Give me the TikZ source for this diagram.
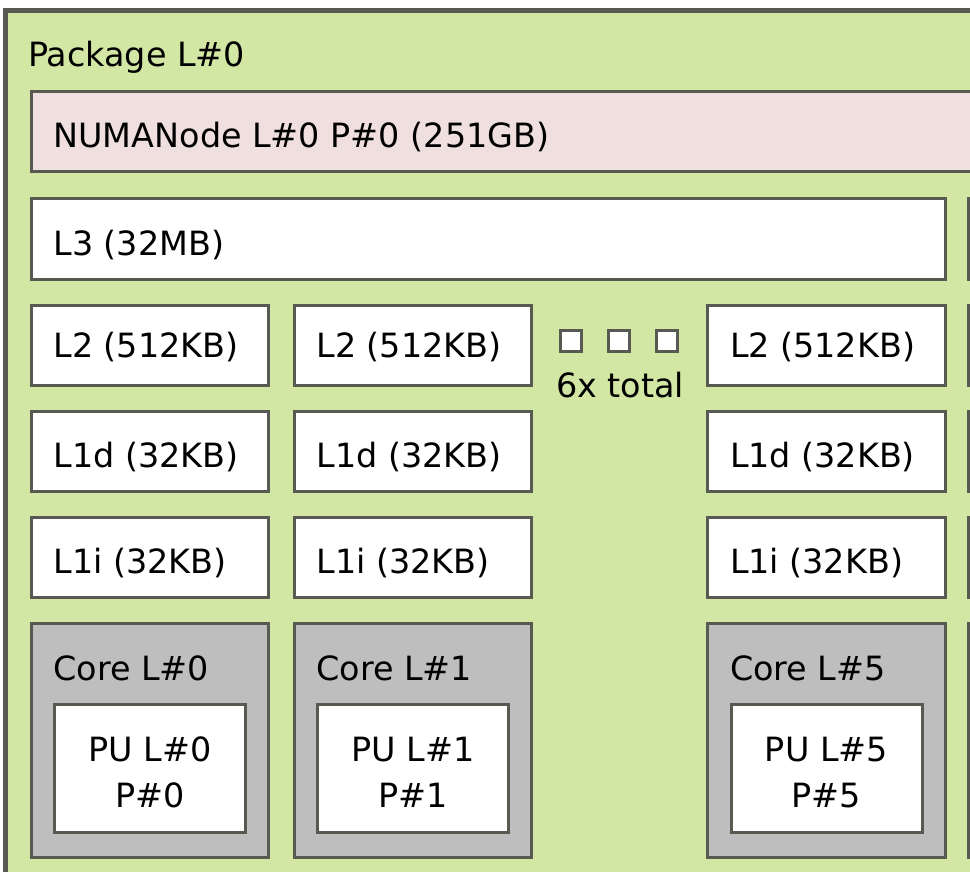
\documentclass[tikz,border=0pt]{standalone}
\usepackage{fontspec}
\setmainfont{DejaVu Sans}
\definecolor{pkgfill}{RGB}{210,231,164}
\definecolor{numafill}{RGB}{239,223,222}
\definecolor{corefill}{RGB}{190,190,190}
\definecolor{edge}{RGB}{88,90,82}
\begin{document}
\begin{tikzpicture}[x=1pt,y=-1pt,
  frame/.style={draw=edge, line width=3pt, outer sep=0pt, inner sep=0pt, anchor=north west},
  cache/.style={frame, fill=white, minimum width=237.5pt, minimum height=80pt},
  corebox/.style={frame, fill=corefill, minimum width=237.5pt, minimum height=234pt},
  pubox/.style={frame, fill=white, minimum width=191pt, minimum height=128.5pt},
  lbl/.style={anchor=base west, inner sep=0pt, outer sep=0pt, font=\fontsize{33.4}{46}\selectfont},
  ctr/.style={inner sep=0pt, outer sep=0pt, align=center, font=\fontsize{33.4}{46}\selectfont},
  dotbox/.style={draw=edge, line width=3pt, fill=white, minimum size=21pt, inner sep=0pt, outer sep=0pt}]
\useasboundingbox (0,0) rectangle (970,872);
\begin{scope}
\clip (0,0) rectangle (970,872);
% package
\node[frame, line width=4.5pt, fill=pkgfill, minimum width=1300pt, minimum height=1000pt] (pkg) at (5.7,10.5) {};
\node[lbl] (pkgl) at (28.2,67) {Package L\#0};
% NUMA
\node[frame, fill=numafill, minimum width=1000pt, minimum height=80pt] (numa) at (31,92) {};
\node[lbl] (numal) at (53.5,148) {NUMANode L\#0 P\#0 (251GB)};
% L3
\node[cache, minimum width=914pt] (l3) at (31,199) {};
\node[lbl] (l3l) at (53.5,255) {L3 (32MB)};
\node[cache] (l3n) at (968,199) {};
% L2
\node[cache] (l2a) at (31,305) {};
\node[cache] (l2b) at (294,305) {};
\node[cache] (l2c) at (707.5,305) {};
\node[cache] (l2n) at (968,305) {};
\node[lbl] (l2al) at (53.5,357) {L2 (512KB)};
\node[lbl] (l2bl) at (316.5,357) {L2 (512KB)};
\node[lbl] (l2cl) at (730,357) {L2 (512KB)};
% L1d
\node[cache] (l1da) at (31,411.5) {};
\node[cache] (l1db) at (294,411.5) {};
\node[cache] (l1dc) at (707.5,411.5) {};
\node[cache] (l1dn) at (968,411.5) {};
\node[lbl] (l1dal) at (53.5,467) {L1d (32KB)};
\node[lbl] (l1dbl) at (316.5,467) {L1d (32KB)};
\node[lbl] (l1dcl) at (730,467) {L1d (32KB)};
% L1i
\node[cache] (l1ia) at (31,517.5) {};
\node[cache] (l1ib) at (294,517.5) {};
\node[cache] (l1ic) at (707.5,517.5) {};
\node[cache] (l1in) at (968,517.5) {};
\node[lbl] (l1ial) at (53.5,573) {L1i (32KB)};
\node[lbl] (l1ibl) at (316.5,573) {L1i (32KB)};
\node[lbl] (l1icl) at (730,573) {L1i (32KB)};
% Cores
\node[corebox] (corea) at (31,623.5) {};
\node[corebox] (coreb) at (294,623.5) {};
\node[corebox] (corec) at (707.5,623.5) {};
\node[corebox] (coren) at (968,623.5) {};
\node[lbl] (coreal) at (53.5,680) {Core L\#0};
\node[lbl] (corebl) at (316.5,680) {Core L\#1};
\node[lbl] (corecl) at (730,680) {Core L\#5};
% PUs
\node[pubox] (pua) at (54.5,704) {};
\node[pubox] (pub) at (317.5,704) {};
\node[pubox] (puc) at (731,704) {};
\node[ctr] (pual) at (150,772.5) {PU L\#0\\P\#0};
\node[ctr] (publ) at (413,772.5) {PU L\#1\\P\#1};
\node[ctr] (pucl) at (826.5,772.5) {PU L\#5\\P\#5};
% dots
\node[dotbox] (d1) at (570.5,340.5) {};
\node[dotbox] (d2) at (618.5,340.5) {};
\node[dotbox] (d3) at (666.5,340.5) {};
\node[lbl, anchor=base] (tot) at (620,397) {6x total};
\end{scope}
\end{tikzpicture}
\end{document}
